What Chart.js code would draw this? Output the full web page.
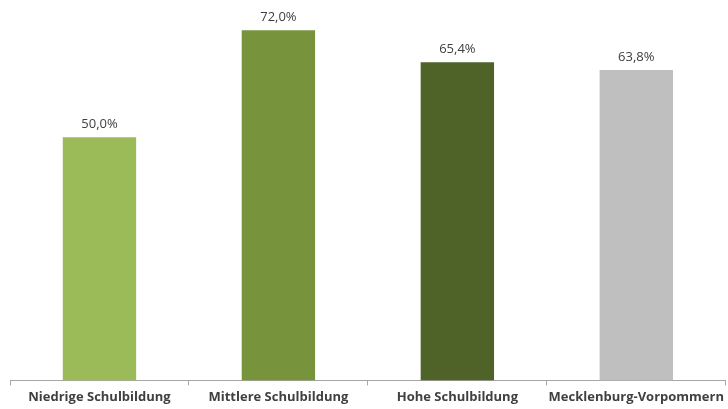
<!DOCTYPE html>
<html>
<head>
<meta charset="utf-8">
<script src="https://cdn.jsdelivr.net/npm/chart.js@4/dist/chart.umd.min.js"></script>
<style>
  html, body { margin: 0; padding: 0; background: #fff; }
  #wrap { width: 728px; height: 409px; }
</style>
</head>
<body>
<div id="wrap"><canvas id="myChart"></canvas></div>
<script>
const categories = ['Niedrige Schulbildung', 'Mittlere Schulbildung', 'Hohe Schulbildung', 'Mecklenburg-Vorpommern'];
const values = [50.0, 72.0, 65.4, 63.8];
const barColors = ['#9bbb59', '#77933c', '#4f6228', '#bfbfbf'];

// value labels above each bar, German decimal comma
const valueLabels = {
    id: 'valueLabels',
    afterDatasetsDraw(chart) {
        const ctx = chart.ctx;
        const meta = chart.getDatasetMeta(0);
        ctx.save();
        ctx.font = '13px "Open Sans", sans-serif';
        ctx.fillStyle = '#404040';
        ctx.textAlign = 'center';
        ctx.textBaseline = 'bottom';
        meta.data.forEach((bar, i) => {
            const txt = values[i].toFixed(1).replace('.', ',') + '%';
            ctx.fillText(txt, bar.x, bar.y - 6);
        });
        ctx.restore();
    }
};

const canvas = document.getElementById('myChart');
const myChart = new Chart(canvas, {
    type: 'bar',
    data: {
        labels: categories,
        datasets: [{
            data: values,
            backgroundColor: barColors,
            borderWidth: 0,
            categoryPercentage: 1,
            barPercentage: 0.41
        }]
    },
    options: {
        responsive: true,
        maintainAspectRatio: false,
        animation: false,
        layout: { padding: { left: 10, right: 0, top: 0, bottom: 0 } },
        plugins: {
            legend: { display: false },
            tooltip: { enabled: false }
        },
        scales: {
            x: {
                offset: true,
                grid: {
                    offset: true,
                    drawOnChartArea: false,
                    tickLength: 5,
                    color: '#a6a6a6'
                },
                border: { color: '#a6a6a6', width: 1 },
                ticks: {
                    color: '#404040',
                    font: { family: '"Open Sans", sans-serif', size: 13, weight: 'bold' },
                    padding: 4,
                    maxRotation: 0,
                    autoSkip: false
                }
            },
            y: {
                display: false,
                min: 0,
                max: 78.2
            }
        }
    },
    plugins: [valueLabels]
});
</script>
</body>
</html>
